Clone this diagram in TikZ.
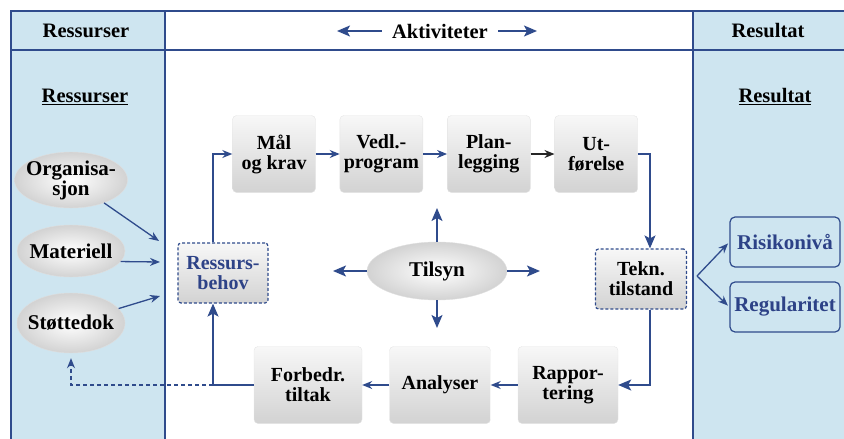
\documentclass[tikz,border=0pt]{standalone}
\usepackage{fontspec}
\setmainfont{Liberation Serif}
\usetikzlibrary{arrows.meta,shapes.geometric,positioning}

\definecolor{rammeblaa}{RGB}{47,75,140}
\definecolor{kolblaa}{RGB}{206,229,240}
\definecolor{tekstblaa}{RGB}{45,66,135}

\newcommand*{\xleft}{11}
\newcommand*{\xmidl}{165}
\newcommand*{\xmidr}{693}
\newcommand*{\xright}{850}
\newcommand*{\ytop}{11}
\newcommand*{\yhead}{50}
\newcommand*{\ybot}{450}

\begin{document}
\begin{tikzpicture}
[
	x=1pt,y=-1pt,
	boks/.style={rectangle,rounded corners=4pt,draw=gray!20,top color=gray!6,bottom color=gray!35,minimum width=83pt,minimum height=77pt,align=center,inner sep=1pt,font=\bfseries\fontsize{20}{20}\selectfont},
	behovboks/.style={boks,draw=rammeblaa,dash pattern=on 3pt off 2pt,line width=1.2pt,minimum width=90pt,minimum height=60pt,rounded corners=3pt},
	ressurs/.style={ellipse,draw=gray!25,inner color=white,outer color=gray!35,minimum width=108pt,inner xsep=-5pt,inner ysep=0pt,align=center,font=\bfseries\fontsize{21}{20}\selectfont},
	resultat/.style={rectangle,rounded corners=5pt,draw=rammeblaa,line width=1.2pt,fill=kolblaa,text=tekstblaa,minimum width=110pt,minimum height=50pt,font=\bfseries\fontsize{21}{21}\selectfont},
	pil/.style={draw=rammeblaa,line width=1.3pt,-{Stealth[length=10pt,width=8pt]}},
	storpil/.style={draw=rammeblaa,line width=1.4pt,-{Stealth[length=13pt,width=11pt,inset=3pt]}},
	hode/.style={font=\bfseries\fontsize{20.5}{20.5}\selectfont}
]

	\useasboundingbox (0,0) rectangle (844,439);

	% columns
	\fill[kolblaa] (\xleft,\ytop) rectangle (\xmidl,\ybot);
	\fill[kolblaa] (\xmidr,\ytop) rectangle (\xright,\ybot);
	\draw[rammeblaa,line width=1.6pt] (\xright,\ytop) -- (\xleft,\ytop) -- (\xleft,\ybot);
	\draw[rammeblaa,line width=1.6pt] (\xleft,\yhead) -- (\xright,\yhead);
	\draw[rammeblaa,line width=1.6pt] (\xmidl,\ytop) -- (\xmidl,\ybot);
	\draw[rammeblaa,line width=1.6pt] (\xmidr,\ytop) -- (\xmidr,\ybot);

	% headers
	\node[hode] (hres) at (86,31) {Ressurser};
	\node[hode,inner xsep=10pt] (akt) at (440,31) {Aktiviteter};
	\node[hode] (hresul) at (768,31) {Resultat};
	\coordinate (aktv) at (337,31);
	\coordinate (akth) at (537,31);
	\draw[storpil] (akt.west) -- (aktv);
	\draw[storpil] (akt.east) -- (akth);

	\node[hode] (ures) at (85,97) {\underline{Ressurser}};
	\node[hode] (uresul) at (775,97) {\underline{Resultat}};

	% resources
	\node[ressurs,minimum height=56pt] (org) at (71,180) {Organisa-\\sjon};
	\node[ressurs,minimum height=52pt] (mat) at (71,251) {Materiell};
	\node[ressurs,minimum height=60pt] (stotte) at (71,323) {Støttedok};

	\coordinate (inn1) at (159,241);
	\coordinate (inn2) at (160,262);
	\coordinate (inn3) at (160,296);
	\draw[pil] (org) -- (inn1);
	\draw[pil] (mat.-12) -- (inn2);
	\draw[pil] (stotte) -- (inn3);

	% activities
	\node[boks] (maal) at (274,154) {Mål\\og krav};
	\node[boks,right=24pt of maal] (vedl) {Vedl.-\\program};
	\node[boks,right=24pt of vedl] (plan) {Plan-\\legging};
	\node[boks,right=24pt of plan] (utf) {Ut-\\førelse};

	\node[boks,minimum width=108pt] (forb) at (308,385) {Forbedr.\\tiltak};
	\node[boks,minimum width=101pt] (anal) at (440,385) {Analyser};
	\node[boks,minimum width=100pt] (rapp) at (568,385) {Rappor-\\tering};

	\node[behovboks,text=tekstblaa] (behov) at (223,273) {Ressurs-\\behov};
	\node[behovboks,minimum width=91pt] (tekn) at (641,279) {Tekn.\\tilstand};

	\node[ressurs,minimum width=140pt,minimum height=58pt] (tilsyn) at (437,271) {Tilsyn};

	\coordinate (behovtop) at ([xshift=-10pt]behov.north);
	\coordinate (behovfoot) at ([xshift=-10pt]behov.south);
	\coordinate (tekntop) at ([xshift=9pt]tekn.north);
	\coordinate (teknfoot) at ([xshift=9pt]tekn.south);

	\draw[pil] (behovtop) |- (maal.west);
	\draw[pil] (maal.east) -- (vedl.west);
	\draw[pil] (vedl.east) -- (plan.west);
	\draw[pil,draw=black!85] (plan.east) -- (utf.west);
	\draw[storpil] (utf.east) -| (tekntop);
	\draw[storpil] (teknfoot) |- (rapp.east);
	\draw[pil] (rapp.west) -- (anal.east);
	\draw[pil] (anal.west) -- (forb.east);
	\draw[storpil] (forb.west) -| (behovfoot);
	\draw[pil,dash pattern=on 4pt off 3pt,shorten >=5pt] (behovfoot |- forb.west) -| (stotte.south);

	% supervision
	\coordinate (tv) at (333,271);
	\coordinate (th) at (540,271);
	\coordinate (to) at (437,208);
	\coordinate (tn) at (437,328);
	\draw[storpil] (tilsyn.west) -- (tv);
	\draw[storpil] (tilsyn.east) -- (th);
	\draw[storpil] (tilsyn.north) -- (to);
	\draw[storpil] (tilsyn.south) -- (tn);

	% results
	\node[resultat] (risk) at (785,242) {Risikonivå};
	\node[resultat] (regul) at (785,307) {Regularitet};

	\coordinate (gren) at (697,276);
	\draw[pil,shorten >=2pt] (gren) -- (risk.west);
	\draw[pil,shorten >=2pt] (gren) -- (regul.west);

\end{tikzpicture}
\end{document}
